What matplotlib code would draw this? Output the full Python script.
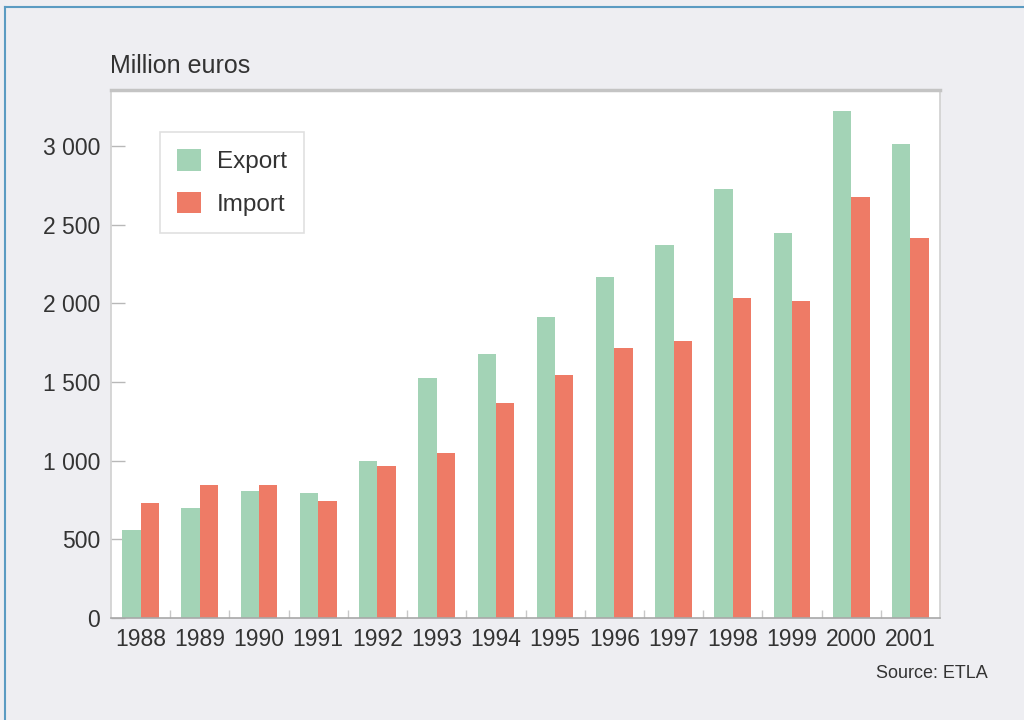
import numpy as np
import matplotlib.pyplot as plt
from matplotlib.ticker import FuncFormatter

plt.rcParams['font.family'] = ['Liberation Sans', 'DejaVu Sans']

# Vienti ja tuonti, miljoonaa euroa
years = ['1988', '1989', '1990', '1991', '1992', '1993', '1994',
         '1995', '1996', '1997', '1998', '1999', '2000', '2001']
export = [560, 700, 805, 795, 1000, 1525, 1680, 1915, 2165, 2370, 2725, 2445, 3220, 3010]
imports = [730, 845, 845, 745, 965, 1050, 1365, 1545, 1715, 1760, 2035, 2015, 2675, 2415]

bg = '#eeeef2'
green = '#a3d3b6'
red = '#ee7b66'
txt = '#333333'

fig = plt.figure(figsize=(10.24, 7.2), dpi=100, facecolor=bg)
ax = fig.add_axes([111/1024, 102/720, 829/1024, 528/720])
ax.set_facecolor('white')

x = np.arange(len(years))
w = 0.31
ax.bar(x - w/2, export, w, color=green, label='Export', zorder=2)
ax.bar(x + w/2, imports, w, color=red, label='Import', zorder=2)

ax.set_xlim(-0.5, len(years) - 0.5)
ax.set_ylim(0, 3355)

ax.set_yticks([0, 500, 1000, 1500, 2000, 2500, 3000])
ax.yaxis.set_major_formatter(FuncFormatter(lambda v, p: f'{int(v):,}'.replace(',', ' ')))
ax.tick_params(axis='y', direction='in', length=10, width=1, color='#b8b8b8',
               labelsize=16.5, labelcolor=txt, pad=8)

ax.set_xticks(x)
ax.set_xticklabels(years)
ax.tick_params(axis='x', length=0, labelsize=16.5, labelcolor=txt, pad=7)
ax.set_xticks(x[:-1] + 0.5, minor=True)
ax.tick_params(axis='x', which='minor', direction='in', length=6, width=1, color='#c8c8c8')

for s in ax.spines.values():
    s.set_color('#d0d0d0')
    s.set_linewidth(1.2)
ax.spines['top'].set_color('#c4c4c4')
ax.spines['top'].set_linewidth(2.5)
ax.spines['bottom'].set_color('#a8a8a8')

leg = ax.legend(loc='upper left', bbox_to_anchor=(0.059, 0.92), borderaxespad=0,
                fontsize=17.5, frameon=True, fancybox=False, edgecolor='#d8d8d8',
                handlelength=1.0, handleheight=1.0, handletextpad=0.65,
                borderpad=0.7, labelspacing=0.75, labelcolor=txt)
leg.get_frame().set_linewidth(1.2)

fig.text(110/1024, 1 - 66/720, 'Million euros', fontsize=18, color=txt,
         ha='left', va='center')
fig.text(988/1024, 1 - 673/720, 'Source: ETLA', fontsize=13, color=txt,
         ha='right', va='center')

# blue frame line along the left and top edges
fig.add_artist(plt.Line2D([5/1024, 5/1024], [0, 1 - 7/720], transform=fig.transFigure,
                          color='#5b9bc2', linewidth=1.5))
fig.add_artist(plt.Line2D([5/1024, 1], [1 - 7/720, 1 - 7/720], transform=fig.transFigure,
                          color='#5b9bc2', linewidth=1.5))

fig.savefig('out.png', dpi=100, facecolor=bg)
